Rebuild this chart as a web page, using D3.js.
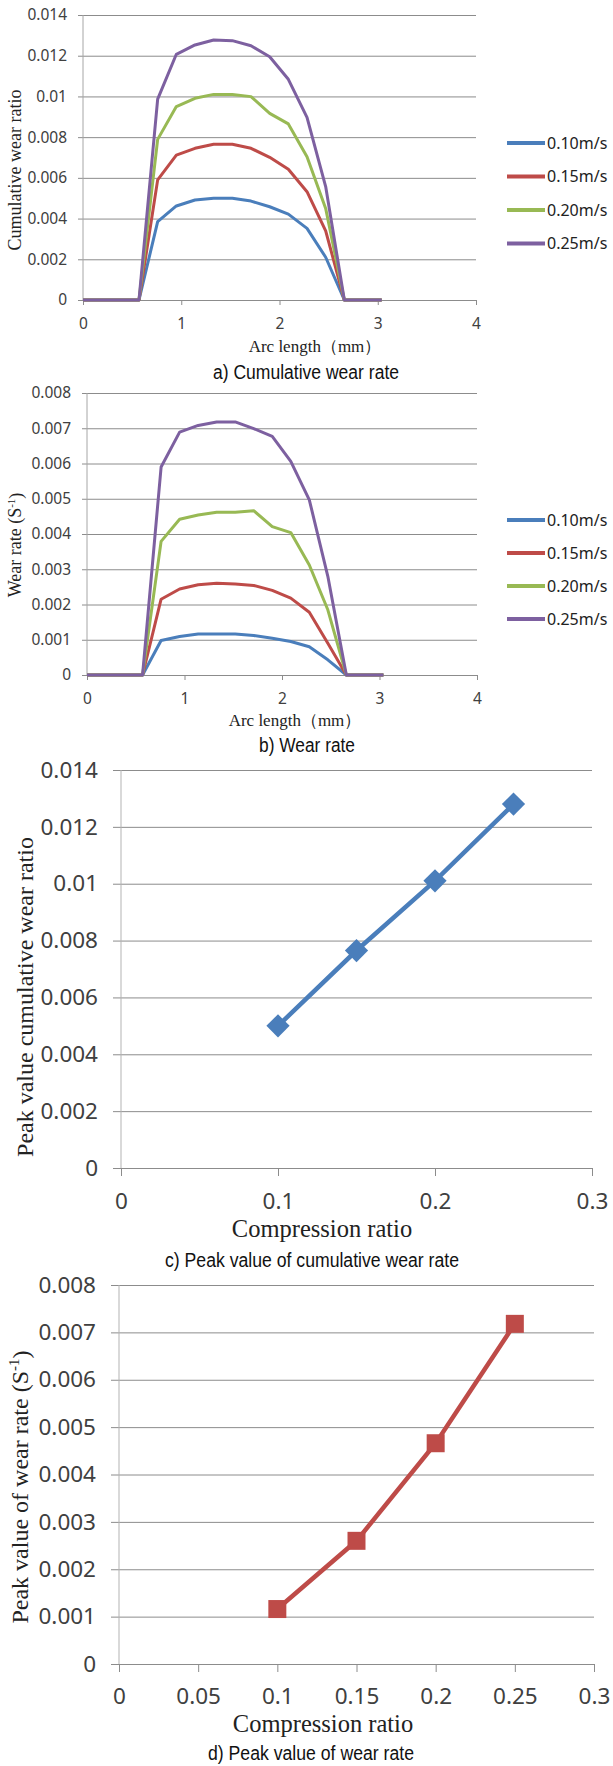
<!DOCTYPE html>
<html>
<head>
<meta charset="utf-8">
<script src="https://cdn.jsdelivr.net/npm/d3@7"></script>
<style>
  body { margin: 0; background: #fff; }
  svg { display: block; }
</style>
</head>
<body>
<div id="chart"></div>
<script>
// arc length positions (mm) shared by charts a and b
var arcLength = [0, 0.19, 0.38, 0.57, 0.76, 0.95, 1.14, 1.33, 1.52, 1.71, 1.90, 2.09, 2.28, 2.47, 2.66, 2.85, 3.04];
var speeds = ["0.10m/s", "0.15m/s", "0.20m/s", "0.25m/s"];

// a) cumulative wear ratio
var cum010 = [0, 0, 0, 0, 0.00385, 0.00462, 0.00491, 0.0050, 0.0050, 0.00486, 0.00458, 0.00422, 0.00352, 0.0021, 0, 0, 0];
var cum015 = [0, 0, 0, 0, 0.0059, 0.00712, 0.00745, 0.00765, 0.00765, 0.00745, 0.00701, 0.00642, 0.00532, 0.0034, 0, 0, 0];
var cum020 = [0, 0, 0, 0, 0.00789, 0.0095, 0.00991, 0.0101, 0.0101, 0.00999, 0.00917, 0.00865, 0.00704, 0.0045, 0, 0, 0];
var cum025 = [0, 0, 0, 0, 0.00987, 0.01207, 0.01253, 0.01277, 0.01274, 0.01249, 0.01195, 0.01084, 0.00897, 0.00557, 0, 0, 0];

// b) wear rate (S-1)
var rate010 = [0, 0, 0, 0, 0.00098, 0.00109, 0.00116, 0.00116, 0.00116, 0.00112, 0.00104, 0.00095, 0.0008, 0.00043, 0, 0, 0];
var rate015 = [0, 0, 0, 0, 0.00215, 0.00244, 0.00256, 0.0026, 0.00258, 0.00254, 0.0024, 0.00218, 0.00178, 0.0009, 0, 0, 0];
var rate020 = [0, 0, 0, 0, 0.00379, 0.00442, 0.00454, 0.00462, 0.00462, 0.00466, 0.00421, 0.00404, 0.00312, 0.00185, 0, 0, 0];
var rate025 = [0, 0, 0, 0, 0.0059, 0.00689, 0.00708, 0.00718, 0.00718, 0.00699, 0.00677, 0.00606, 0.00497, 0.0028, 0, 0, 0];

// c) and d) peak values against compression ratio
var compression = [0.1, 0.15, 0.2, 0.25];
var peakCum = [0.0050, 0.00765, 0.0101, 0.0128];
var peakRate = [0.00116, 0.0026, 0.00466, 0.00718];

// tick labels
var arcTicks = [0, 1, 2, 3, 4];
var cumTicks = [0, 0.002, 0.004, 0.006, 0.008, 0.01, 0.012, 0.014];
var rateTicks = [0, 0.001, 0.002, 0.003, 0.004, 0.005, 0.006, 0.007, 0.008];
var compTicksC = [0, 0.1, 0.2, 0.3];
var compTicksD = [0, 0.05, 0.1, 0.15, 0.2, 0.25, 0.3];

var colors = ["#4a7ebb", "#be4b48", "#98b954", "#7d60a0"];
var gridColor = "#8c8c8c";
var fmt = function(d) { return d === 0 ? "0" : String(+d.toFixed(4)); };

var svg = d3.select("#chart").append("svg")
    .attr("width", 613)
    .attr("height", 1766);

// gridlines + y labels drawn with one axis placed at the right edge
function yGrid(g, y, ticks, left, right, size, pad) {
    var ax = g.append("g")
        .attr("transform", "translate(" + right + ",0)")
        .call(d3.axisLeft(y).tickValues(ticks).tickFormat(fmt)
            .tickSize(right - left + size).tickPadding(pad));
    ax.select(".domain").remove();
    ax.selectAll("line").attr("stroke", gridColor);
    return ax;
}

function caption(g, txt, cx, cy, len) {
    g.append("text")
        .attr("x", cx).attr("y", cy)
        .attr("text-anchor", "middle")
        .attr("font-family", "'Liberation Sans Narrow', 'Liberation Sans', Arial, sans-serif")
        .attr("font-size", 20)
        .attr("textLength", len)
        .attr("lengthAdjust", "spacingAndGlyphs")
        .attr("fill", "#111")
        .text(txt);
}

function arcChart(o) {
    var g = svg.append("g");
    var x = d3.scaleLinear().domain([0, 4]).range([o.left, o.right]);
    var y = d3.scaleLinear().domain([0, o.ymax]).range([o.bottom, o.top]);

    var ax = yGrid(g, y, o.yticks, o.left, o.right, 5, 11);
    ax.selectAll("text").attr("font-family", "'Noto Sans', sans-serif")
        .attr("font-size", 15.5).attr("fill", "#404040");

    // y axis line
    g.append("line").attr("x1", o.left).attr("x2", o.left)
        .attr("y1", o.top).attr("y2", o.bottom).attr("stroke", "#a6a6a6");

    var xa = g.append("g").attr("transform", "translate(0," + o.bottom + ")")
        .call(d3.axisBottom(x).tickValues(arcTicks).tickFormat(fmt).tickSize(5).tickSizeOuter(0).tickPadding(12.5));
    xa.select(".domain").attr("stroke", gridColor);
    xa.selectAll("line").attr("stroke", gridColor);
    xa.selectAll("text").attr("font-family", "'Noto Sans', sans-serif")
        .attr("font-size", 15.5).attr("fill", "#404040");

    var line = d3.line().x(function(d, i) { return x(arcLength[i]); }).y(function(d) { return y(d); });
    o.series.forEach(function(s, k) {
        g.append("path").datum(s)
            .attr("d", line)
            .attr("fill", "none")
            .attr("stroke", colors[k])
            .attr("stroke-width", 3)
            .attr("stroke-linejoin", "round");
    });

    // legend
    var lg = g.append("g").selectAll("g").data(speeds).enter().append("g")
        .attr("transform", function(d, i) { return "translate(507," + (o.legendTop + i * o.legendStep) + ")"; });
    lg.append("line").attr("x1", 0).attr("x2", 38)
        .attr("stroke", function(d, i) { return colors[i]; })
        .attr("stroke-width", 4);
    lg.append("text").attr("x", 40).attr("dy", "0.35em")
        .attr("font-family", "'Noto Sans', sans-serif")
        .attr("font-size", 16).attr("fill", "#222")
        .text(function(d) { return d; });

    // axis titles
    var yt = g.append("text")
        .attr("transform", "translate(" + o.ytx + "," + o.yty + ") rotate(-90)")
        .attr("text-anchor", "middle").attr("dy", "0.35em")
        .attr("font-family", "'Liberation Serif', 'Times New Roman', serif")
        .attr("font-size", 18).attr("fill", "#222");
    yt.append("tspan").text(o.ytitle);
    if (o.sup) {
        yt.append("tspan").attr("font-size", 11).attr("dy", "-0.55em").text(o.sup);
        yt.append("tspan").attr("dy", "0.35em").text(")");
    }

    g.append("text").attr("x", o.xtx).attr("y", o.xty)
        .attr("text-anchor", "middle")
        .attr("font-family", "'Liberation Serif', 'Times New Roman', serif")
        .attr("font-size", 17).attr("fill", "#222")
        .text("Arc length（mm）");

    caption(g, o.caption, o.capx, o.capy, o.capLen);
}

function peakChart(o) {
    var g = svg.append("g");
    var x = d3.scaleLinear().domain([0, 0.3]).range([o.left, o.right]);
    var y = d3.scaleLinear().domain([0, o.ymax]).range([o.bottom, o.top]);

    var ax = yGrid(g, y, o.yticks, o.left, o.right, 8, o.ypad);
    ax.selectAll("text").attr("font-family", "'Noto Sans', sans-serif")
        .attr("font-size", 22.5).attr("fill", "#404040");

    g.append("line").attr("x1", o.left).attr("x2", o.left)
        .attr("y1", o.top).attr("y2", o.bottom).attr("stroke", "#b3b3b3");

    var xa = g.append("g").attr("transform", "translate(0," + o.bottom + ")")
        .call(d3.axisBottom(x).tickValues(o.xticks).tickFormat(fmt).tickSize(8).tickSizeOuter(0).tickPadding(o.xpad));
    xa.select(".domain").attr("stroke", gridColor);
    xa.selectAll("line").attr("stroke", gridColor);
    xa.selectAll("text").attr("font-family", "'Noto Sans', sans-serif")
        .attr("font-size", 22.5).attr("fill", "#404040");

    var line = d3.line().x(function(d, i) { return x(compression[i]); }).y(function(d) { return y(d); });
    g.append("path").datum(o.values)
        .attr("d", line)
        .attr("fill", "none")
        .attr("stroke", o.color)
        .attr("stroke-width", 4.5);

    var sym = d3.symbol().type(d3.symbolSquare).size(o.markerSize);
    g.selectAll(".mk").data(o.values).enter().append("path")
        .attr("transform", function(d, i) {
            return "translate(" + x(compression[i]) + "," + y(d) + ") rotate(" + o.markerRotate + ")";
        })
        .attr("d", sym)
        .attr("fill", o.color);

    var yt = g.append("text")
        .attr("transform", "translate(" + o.ytx + "," + o.yty + ") rotate(-90)")
        .attr("text-anchor", "middle").attr("dy", "0.35em")
        .attr("font-family", "'Liberation Serif', 'Times New Roman', serif")
        .attr("font-size", 24).attr("fill", "#222");
    yt.append("tspan").text(o.ytitle);
    if (o.sup) {
        yt.append("tspan").attr("font-size", 15).attr("dy", "-0.6em").text(o.sup);
        yt.append("tspan").attr("dy", "0.4em").text(")");
    }

    g.append("text").attr("x", o.xtx).attr("y", o.xty)
        .attr("text-anchor", "middle")
        .attr("font-family", "'Liberation Serif', 'Times New Roman', serif")
        .attr("font-size", 24.5).attr("fill", "#222")
        .text("Compression ratio");

    caption(g, o.caption, o.capx, o.capy, o.capLen);
}

arcChart({
    left: 83, right: 476, top: 15, bottom: 300, ymax: 0.014, yticks: cumTicks,
    series: [cum010, cum015, cum020, cum025],
    legendTop: 143, legendStep: 33.5,
    ytitle: "Cumulative wear ratio", ytx: 15, yty: 170,
    xtx: 315, xty: 352,
    caption: "a) Cumulative wear rate", capx: 306, capy: 379, capLen: 186
});

arcChart({
    left: 87, right: 477, top: 393, bottom: 675, ymax: 0.008, yticks: rateTicks,
    series: [rate010, rate015, rate020, rate025],
    legendTop: 520, legendStep: 33,
    ytitle: "Wear rate (S", sup: "-1", ytx: 15, yty: 545,
    xtx: 295, xty: 726,
    caption: "b) Wear rate", capx: 307, capy: 752, capLen: 96
});

peakChart({
    left: 121, right: 592, top: 770, bottom: 1168, ymax: 0.014, yticks: cumTicks,
    xticks: compTicksC, values: peakCum, color: "#4a7ebb",
    markerSize: 270, markerRotate: 45, ypad: 15, xpad: 17,
    ytitle: "Peak value cumulative wear ratio", ytx: 25, yty: 997,
    xtx: 322, xty: 1237,
    caption: "c) Peak value of cumulative wear rate", capx: 312, capy: 1267, capLen: 294
});

peakChart({
    left: 119, right: 594, top: 1285, bottom: 1664, ymax: 0.008, yticks: rateTicks,
    xticks: compTicksD, values: peakRate, color: "#be4b48",
    markerSize: 324, markerRotate: 0, ypad: 15, xpad: 16,
    ytitle: "Peak value of wear rate (S", sup: "-1", ytx: 20, yty: 1487,
    xtx: 323, xty: 1732,
    caption: "d) Peak value of wear rate", capx: 311, capy: 1760, capLen: 206
});
</script>
</body>
</html>
